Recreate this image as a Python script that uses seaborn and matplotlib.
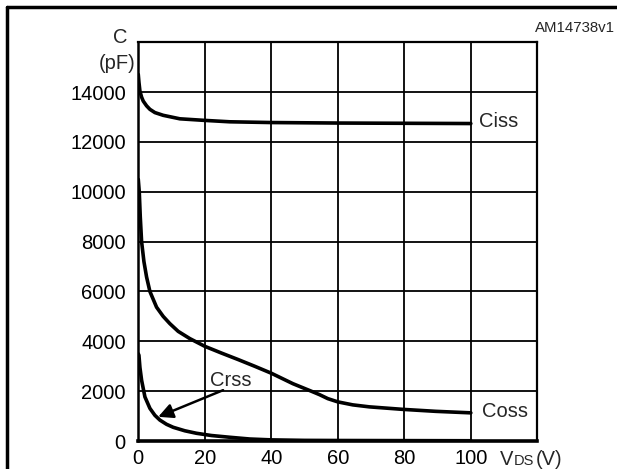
import pandas as pd
import matplotlib.pyplot as plt
import seaborn as sns
from matplotlib.lines import Line2D

# capacitance curves
ciss_v = [0, 0.2, 0.5, 1, 1.5, 2.5, 3.5, 5, 7.5, 12.5, 19.5, 27.5, 40, 60, 80, 100]
ciss_c = [14710, 14400, 14040, 13800, 13640, 13450, 13310, 13180, 13070, 12930, 12870, 12810,
          12780, 12760, 12750, 12740]

coss_v = [0, 0.3, 0.6, 1, 1.7, 2.5, 3.5, 5.5, 7.5, 9.5, 12, 15.5, 20, 25, 30, 35, 40, 46.5, 52,
          54.5, 57, 60, 64.5, 69.5, 79.5, 89.5, 100]
coss_c = [10500, 10000, 9000, 8000, 7200, 6580, 6000, 5370, 5000, 4710, 4400, 4110, 3800, 3530,
          3270, 3000, 2720, 2300, 2000, 1860, 1700, 1570, 1450, 1370, 1270, 1190, 1130]

crss_v = [0, 0.2, 0.5, 1, 2, 3.5, 5, 6.5, 8.5, 10.5, 14, 17.5, 22, 27.5, 33.5, 40, 50, 60, 80, 100]
crss_c = [3500, 3440, 2950, 2440, 1770, 1310, 1030, 840, 670, 550, 410, 310, 220, 150, 80, 45,
          25, 20, 15, 10]

x_ticks = [0, 20, 40, 60, 80, 100]
y_ticks = [0, 2000, 4000, 6000, 8000, 10000, 12000, 14000]

df = pd.concat([
    pd.DataFrame({'VDS': ciss_v, 'C': ciss_c, 'curve': 'Ciss'}),
    pd.DataFrame({'VDS': coss_v, 'C': coss_c, 'curve': 'Coss'}),
    pd.DataFrame({'VDS': crss_v, 'C': crss_c, 'curve': 'Crss'}),
])

sns.set_theme(style="white")
plt.rcParams['font.family'] = ['Liberation Sans', 'DejaVu Sans']

fig = plt.figure(figsize=(6.17, 4.69), dpi=100)
ax = fig.add_axes([0.2241, 0.0597, 0.6468, 0.8501])

sns.lineplot(data=df, x='VDS', y='C', hue='curve', palette=['black'] * 3,
             linewidth=2.6, legend=False, ax=ax, sort=False)

ax.set_xlim(0, 120)
ax.set_ylim(0, 16000)
ax.set_xticks(x_ticks + [120])
ax.set_xticklabels([str(t) for t in x_ticks] + [''])
ax.set_yticks(y_ticks + [16000])
ax.set_yticklabels([str(t) for t in y_ticks] + [''])
ax.tick_params(length=0, labelsize=14.5, colors='black')
ax.tick_params(axis='y', pad=9)
ax.tick_params(axis='x', pad=6)
ax.grid(True, color='black', linewidth=1.3)
ax.set_xlabel('')
ax.set_ylabel('')
for side, lw in [('left', 1.8), ('bottom', 2.6), ('top', 1.6), ('right', 1.6)]:
    ax.spines[side].set_color('black')
    ax.spines[side].set_linewidth(lw)

# curve labels
ax.text(108.5, 12840, 'Ciss', fontsize=14.5, ha='center', va='center')
ax.text(110.3, 1172, 'Coss', fontsize=14.5, ha='center', va='center')
ax.text(27.8, 2420, 'Crss', fontsize=14.5, ha='center', va='center')
ax.annotate('', xy=(6, 970), xytext=(25.5, 2040),
            arrowprops=dict(arrowstyle='-|>', mutation_scale=22, lw=1.8, color='black',
                            shrinkA=0, shrinkB=0))

# axis titles
fig.text(120.5 / 617, 1 - 37.7 / 469, 'C', fontsize=14.5, ha='center', va='center')
fig.text(136 / 617, 1 - 63.3 / 469, '(pF)', fontsize=14.5, ha='right', va='center')
fig.text(500 / 617, 1 - 465 / 469, 'V', fontsize=14.5, ha='left', va='baseline')
fig.text(514 / 617, 1 - 465 / 469, 'DS', fontsize=10.5, ha='left', va='baseline')
fig.text(536 / 617, 1 - 465 / 469, '(V)', fontsize=14.5, ha='left', va='baseline')
fig.text(615 / 617, 1 - 28.3 / 469, 'AM14738v1', fontsize=10.8, ha='right', va='center')

# outer frame (left and top edges)
fig.add_artist(Line2D([6.7 / 617, 6.7 / 617], [0, 1 - 6.7 / 469], color='black', lw=2.5,
                      transform=fig.transFigure))
fig.add_artist(Line2D([6.7 / 617, 1], [1 - 6.7 / 469, 1 - 6.7 / 469], color='black', lw=2.5,
                      transform=fig.transFigure))

fig.savefig('out.png', dpi=100)
